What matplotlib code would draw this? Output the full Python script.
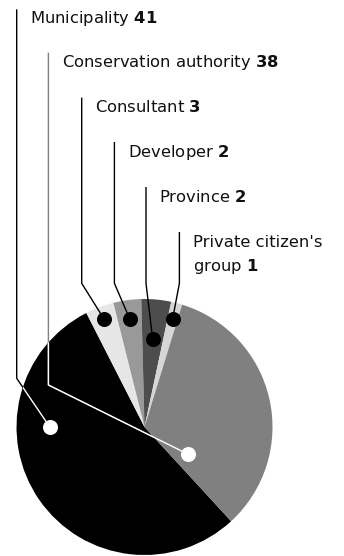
import numpy as np
import matplotlib
matplotlib.use('Agg')
import matplotlib.pyplot as plt
import matplotlib.patches as mpatches

# data
names = ['Municipality', 'Conservation authority', 'Consultant', 'Developer',
         'Province', "Private citizen's\ngroup"]
counts = [41, 38, 3, 2, 2, 1]
# share of the pie (percent)
shares = [54.3, 33.4, 3.6, 3.5, 3.75, 1.4]
colors = ['#000000', '#808080', '#e6e6e6', '#999999', '#4d4d4d', '#d6d6d6']

plt.rcParams['font.family'] = ['DejaVu Sans']
plt.rcParams['mathtext.fontset'] = 'dejavusans'

W, H = 344, 556
fig = plt.figure(figsize=(W / 100, H / 100), dpi=100)
ax = fig.add_axes([0, 0, 1, 1])

cx, cy, R = 144.5, H - 427, 128

# pie drawn clockwise from the municipality/conservation border
order = [0, 2, 3, 4, 5, 1]
wedges, _ = ax.pie([shares[i] for i in order], colors=[colors[i] for i in order],
                   center=(cx, cy), radius=R, startangle=-47.4, counterclock=False,
                   wedgeprops=dict(linewidth=0), frame=True)
ax.set_xlim(0, W)
ax.set_ylim(0, H)
ax.set_aspect('equal')
ax.axis('off')
wedge_of = {i: wedges[k] for k, i in enumerate(order)}

# layout (pixel coords from the top)
text_x = [30, 61.7, 95, 127.7, 159.3, 192.7]
base_y = [23.3, 66.7, 112.3, 156.7, 201.7, 246.7]
elbow_y = [378.3, 385, 283.3, 283.3, 283.3, 283.3]
dot_ang = [180, -32, None, None, None, None]
dot_r = [0.74, 0.40, 0.90, 0.85, 0.69, 0.87]
line_col = ['#000000', '#808080', '#000000', '#000000', '#000000', '#000000']
dot_col = ['white', 'white', 'black', 'black', 'black', 'black']

circ = mpatches.Circle((cx, cy), R, transform=ax.transData)

for i in range(len(names)):
    w = wedge_of[i]
    ang = dot_ang[i] if dot_ang[i] is not None else (w.theta1 + w.theta2) / 2
    dx = cx + dot_r[i] * R * np.cos(np.radians(ang))
    dy = cy + dot_r[i] * R * np.sin(np.radians(ang))
    lx = text_x[i] - 13.3
    xs = [lx, lx, dx]
    ys = [H - (base_y[i] - 14), H - elbow_y[i], dy]
    if dot_col[i] == 'white':
        ax.plot(xs, ys, color=line_col[i], lw=1.0, zorder=1, solid_capstyle='butt')
        inner, = ax.plot(xs, ys, color='white', lw=1.0, zorder=3)
        inner.set_clip_path(circ)
    else:
        ax.plot(xs, ys, color=line_col[i], lw=1.0, zorder=3)
    ax.scatter([dx], [dy], s=15 ** 2 * 0.52, color=dot_col[i], zorder=4, linewidths=0)

    lines = names[i].split('\n')
    for j, ln in enumerate(lines):
        txt = ln
        if j == len(lines) - 1:
            txt = ln + r' $\mathbf{%d}$' % counts[i]
        ax.text(text_x[i], H - (base_y[i] + 24 * j), txt, fontsize=11.8,
                color='#111111', ha='left', va='baseline')

fig.savefig('out.png', dpi=100)
